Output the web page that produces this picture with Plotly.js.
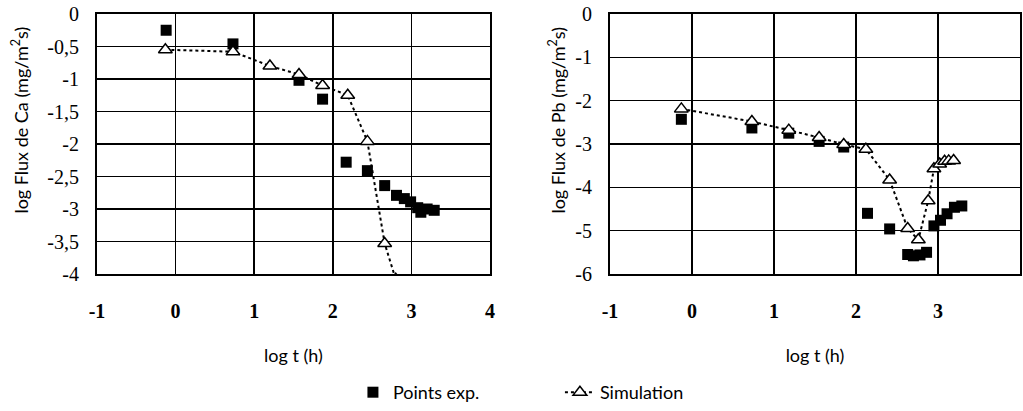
<!DOCTYPE html>
<html><head><meta charset="utf-8">
<script src="https://cdn.plot.ly/plotly-3.0.1.min.js"></script>
<style>html,body{margin:0;padding:0;background:#fff}</style>
</head><body><div id="chart" style="width:1023px;height:411px"></div>
<script>
// Left panel: Ca
const caExpX = [-0.12, 0.73, 1.57, 1.87, 2.17, 2.44, 2.66, 2.81, 2.91, 2.99, 3.08, 3.12, 3.20, 3.29];
const caExpY = [-0.25, -0.46, -1.02, -1.31, -2.28, -2.41, -2.64, -2.79, -2.84, -2.89, -2.98, -3.05, -3.00, -3.02];
const caSimX = [-0.13, 0.73, 1.20, 1.57, 1.87, 2.19, 2.44, 2.66, 2.80];
const caSimY = [-0.55, -0.58, -0.80, -0.93, -1.10, -1.25, -1.96, -3.53, -4.08];
// Right panel: Pb
const pbExpX = [-0.13, 0.73, 1.18, 1.55, 1.85, 2.14, 2.41, 2.63, 2.70, 2.78, 2.86, 2.95, 3.03, 3.11, 3.20, 3.29];
const pbExpY = [-2.43, -2.63, -2.75, -2.94, -3.07, -4.60, -4.96, -5.55, -5.58, -5.56, -5.50, -4.89, -4.76, -4.61, -4.46, -4.43];
const pbSimX = [-0.13, 0.73, 1.18, 1.55, 1.85, 2.12, 2.41, 2.63, 2.76, 2.88, 2.95, 3.02, 3.08, 3.13, 3.19];
const pbSimY = [-2.19, -2.48, -2.68, -2.85, -3.01, -3.12, -3.83, -4.95, -5.21, -4.31, -3.57, -3.46, -3.40, -3.39, -3.38];
// Ticks
const xTickVals = [-1, 0, 1, 2, 3, 4];
const xTickText = ['-1', '0', '1', '2', '3', '4'];
const caTickVals = [0, -0.5, -1, -1.5, -2, -2.5, -3, -3.5, -4];
const caTickText = ['0', '-0,5', '-1', '-1,5', '-2', '-2,5', '-3', '-3,5', '-4'];
const pbTickVals = [0, -1, -2, -3, -4, -5, -6];
const pbTickText = ['0', '-1', '-2', '-3', '-4', '-5', '-6'];
const names = ['Points exp.', 'Simulation'];
const xTitle = 'log t (h)';
const caTitle = 'log Flux de Ca (mg/m<sup>2</sup>s)';
const pbTitle = 'log Flux de Pb (mg/m<sup>2</sup>s)';

const sans = 'Lato';
const serif = 'Liberation Serif';

function expTrace(x, y, xa, ya, show) {
  return {x: x, y: y, xaxis: xa, yaxis: ya, type: 'scatter', mode: 'markers', name: names[0],
    showlegend: show, marker: {symbol: 'square', size: 11, color: '#000'}};
}
function simTrace(x, y, xa, ya, show) {
  return {x: x, y: y, xaxis: xa, yaxis: ya, type: 'scatter', mode: 'lines+markers', name: names[1],
    showlegend: show, line: {color: '#000', width: 2, dash: 'dot'},
    marker: {symbol: 'triangle-up', size: 12, color: '#fff', line: {color: '#000', width: 1.5}}};
}
const data = [
  expTrace(caExpX, caExpY, 'x', 'y', true),
  simTrace(caSimX, caSimY, 'x', 'y', true),
  expTrace(pbExpX, pbExpY, 'x2', 'y2', false),
  simTrace(pbSimX, pbSimY, 'x2', 'y2', false)
];

function xAxis(domain, anchor) {
  return {domain: domain, anchor: anchor, range: [-1, 4], tickvals: xTickVals, ticktext: xTickText,
    showgrid: true, gridcolor: '#000', gridwidth: 1.5, zeroline: false, showline: true,
    linecolor: '#000', linewidth: 2, mirror: true, ticks: '', ticklabelstandoff: 18,
    tickfont: {family: serif, size: 20, color: '#000', weight: 'bold'},
    title: {text: xTitle, font: {family: sans, size: 18, color: '#000'}, standoff: 28}};
}
function yAxis(range, vals, text, anchor) {
  return {domain: [0, 1], anchor: anchor, range: range, tickvals: vals, ticktext: text,
    showgrid: true, gridcolor: '#000', gridwidth: 1.5, zeroline: false, showline: true,
    linecolor: '#000', linewidth: 2, mirror: true, ticks: '', ticklabelstandoff: 12,
    tickfont: {family: serif, size: 20, color: '#000'}};
}

const layout = {
  width: 1023, height: 411,
  margin: {l: 0, r: 0, t: 14, b: 126},
  font: {family: serif},
  paper_bgcolor: '#fff', plot_bgcolor: '#fff',
  xaxis: xAxis([0.0948, 0.479], 'y'),
  yaxis: yAxis([-4, 0], caTickVals, caTickText, 'x'),
  xaxis2: xAxis([0.5963, 0.9971], 'y2'),
  yaxis2: yAxis([-6, 0], pbTickVals, pbTickText, 'x2'),
  showlegend: true,
  legend: {orientation: 'h', x: 0.345, y: -0.385, xanchor: 'left', yanchor: 'top',
    entrywidth: 162, entrywidthmode: 'pixels',
    font: {family: sans, size: 18, color: '#000'}, bgcolor: 'rgba(0,0,0,0)'},
  annotations: [
    {text: caTitle, xref: 'paper', yref: 'paper', x: 20 / 1023, y: 0.59, textangle: -90,
      showarrow: false, xanchor: 'center', yanchor: 'middle', font: {family: sans, size: 18, color: '#000'}},
    {text: pbTitle, xref: 'paper', yref: 'paper', x: 557 / 1023, y: 0.59, textangle: -90,
      showarrow: false, xanchor: 'center', yanchor: 'middle', font: {family: sans, size: 18, color: '#000'}}
  ]
};
Plotly.newPlot('chart', data, layout, {displayModeBar: false, staticPlot: true});
</script></body></html>
